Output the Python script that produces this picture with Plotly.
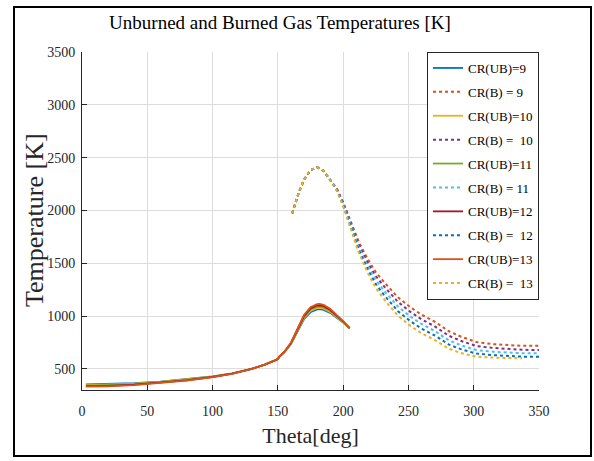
import plotly.graph_objects as go

# ---------------- data ----------------
cr_values = [9, 10, 11, 12, 13]

theta_ub = [3, 20, 40, 60, 80, 100, 115, 130, 140, 148, 150, 151, 155, 160, 165,
            170, 175, 180, 182, 185, 190, 195, 200, 205]
t_ub_9 = [352, 355, 364, 380, 401, 429, 457, 500, 540, 580, 592, 615, 657, 732, 845,
          970, 1036, 1063, 1065, 1058, 1030, 986, 938, 885]
t_ub_10 = [347, 350, 359, 376, 398, 427, 456, 500, 540, 580, 592, 615, 658, 736, 852,
           980, 1048, 1076, 1078, 1070, 1040, 993, 941, 885]
t_ub_11 = [342, 345, 355, 372, 395, 425, 455, 500, 540, 580, 592, 615, 660, 740, 860,
           990, 1060, 1088, 1090, 1082, 1050, 1000, 945, 885]
t_ub_12 = [337, 340, 351, 368, 392, 423, 454, 500, 540, 580, 592, 615, 662, 744, 868,
           1000, 1072, 1100, 1102, 1094, 1060, 1007, 949, 885]
t_ub_13 = [332, 335, 346, 364, 389, 421, 453, 500, 540, 580, 592, 615, 663, 748, 875,
           1010, 1084, 1113, 1115, 1106, 1070, 1014, 952, 885]

theta_b = [161, 163, 166, 170, 175, 180, 185, 190, 195, 200, 206, 212, 219, 225, 232,
           242, 251, 260, 270, 281, 290, 302, 315, 325, 337, 350]
t_b_9 = [1972, 2060, 2170, 2290, 2380, 2410, 2375, 2290, 2210, 2080, 1885, 1700, 1535,
         1415, 1312, 1177, 1088, 1013, 948, 856, 807, 754, 734, 724, 718, 719]
t_b_10 = [1972, 2060, 2170, 2290, 2380, 2410, 2375, 2290, 2205, 2070, 1867, 1675, 1502,
          1378, 1271, 1134, 1044, 969, 904, 813, 766, 716, 698, 689, 681, 678]
t_b_11 = [1972, 2060, 2170, 2290, 2380, 2410, 2375, 2290, 2200, 2060, 1850, 1650, 1470,
          1340, 1230, 1090, 1000, 925, 860, 770, 725, 678, 662, 654, 648, 647]
t_b_12 = [1972, 2060, 2170, 2290, 2380, 2410, 2375, 2290, 2195, 2050, 1833, 1625, 1438,
          1302, 1189, 1046, 956, 881, 818, 730, 687, 645, 630, 622, 616, 615]
t_b_13 = [1972, 2060, 2170, 2290, 2380, 2410, 2375, 2290, 2190, 2040, 1815, 1600, 1405,
          1265, 1148, 1003, 912, 837, 775, 690, 650, 615, 607, 604, 600]

ub_names = ["CR(UB)=9", "CR(UB)=10", "CR(UB)=11", "CR(UB)=12", "CR(UB)=13"]
b_names = ["CR(B) = 9", "CR(B) =\u00a0 10", "CR(B) = 11", "CR(B) =\u00a0 12", "CR(B) =\u00a0 13"]

x_ticks = [0, 50, 100, 150, 200, 250, 300, 350]
y_ticks = [500, 1000, 1500, 2000, 2500, 3000, 3500]

title_text = "Unburned and Burned Gas Temperatures [K]"
x_label = "Theta[deg]"
y_label = "Temperature [K]"

# ---------------- style ----------------
ub_colors = ["#0072BD", "#EDB120", "#77AC30", "#A2142F", "#D95319"]
b_colors = ["#D95319", "#7E2F8E", "#4DBEEE", "#0072BD", "#EDB120"]

ub_series = [t_ub_9, t_ub_10, t_ub_11, t_ub_12, t_ub_13]
b_series = [t_b_9, t_b_10, t_b_11, t_b_12, t_b_13]

fig = go.Figure()
for i in range(len(cr_values)):
    fig.add_trace(go.Scatter(
        x=theta_ub, y=ub_series[i], mode="lines", name=ub_names[i],
        legendgroup="ub%d" % i,
        line=dict(color=ub_colors[i], width=1.8),
    ))
    fig.add_trace(go.Scatter(
        x=theta_b[:len(b_series[i])], y=b_series[i], mode="lines", name=b_names[i],
        legendgroup="b%d" % i,
        line=dict(color=b_colors[i], width=2, dash="3px,3px"),
    ))

ML, MR, MT, MB = 82, 55, 52, 71
W, H = 594, 461
PW, PH = W - ML - MR, H - MT - MB

def px_x(p):
    return (p - ML) / PW

def px_y(p):
    return (H - MB - p) / PH

axis_col = "#262626"
grid_col = "#dcdcdc"
serif = "Liberation Serif, Times New Roman, serif"

fig.update_layout(
    width=W, height=H,
    margin=dict(l=ML, r=MR, t=MT, b=MB, autoexpand=False),
    paper_bgcolor="white", plot_bgcolor="white",
    font=dict(family=serif, color=axis_col, size=14),
    title=dict(
        text=title_text,
        font=dict(family=serif, size=19, color="black"),
        x=px_x(280), xref="paper", xanchor="center",
        y=1 - 22 / H, yref="container", yanchor="middle",
    ),
    showlegend=True,
    legend=dict(
        x=1, y=1, xanchor="right", yanchor="top",
        bgcolor="white", bordercolor=axis_col, borderwidth=1,
        font=dict(family=serif, size=13, color="black"),
        tracegroupgap=4, itemwidth=30,
    ),
    shapes=[dict(
        type="rect", xref="paper", yref="paper",
        x0=px_x(14), x1=px_x(591), y0=px_y(456), y1=px_y(7),
        line=dict(color="black", width=2), fillcolor="rgba(0,0,0,0)", layer="below",
    )],
    annotations=[dict(
        text=y_label, xref="paper", yref="paper",
        x=px_x(34), y=px_y(220), xanchor="center", yanchor="middle",
        textangle=-90, showarrow=False,
        font=dict(family=serif, size=26, color=axis_col),
    )],
)

fig.update_xaxes(
    range=[0, 350], tickvals=x_ticks, ticktext=[str(v) for v in x_ticks],
    showgrid=True, gridcolor=grid_col, gridwidth=1, zeroline=False,
    showline=True, linecolor=axis_col, linewidth=1,
    ticks="inside", ticklen=5, tickcolor=axis_col,
    tickfont=dict(family=serif, size=14, color=axis_col),
    ticklabelstandoff=8,
    title=dict(text=x_label, font=dict(family=serif, size=22, color=axis_col), standoff=9),
)
fig.update_yaxes(
    range=[300, 3500], tickvals=y_ticks, ticktext=[str(v) for v in y_ticks],
    showgrid=True, gridcolor=grid_col, gridwidth=1, zeroline=False,
    showline=True, linecolor=axis_col, linewidth=1,
    ticks="inside", ticklen=5, tickcolor=axis_col,
    tickfont=dict(family=serif, size=14, color=axis_col),
    ticklabelstandoff=3,
)

fig.write_html("out.html")
